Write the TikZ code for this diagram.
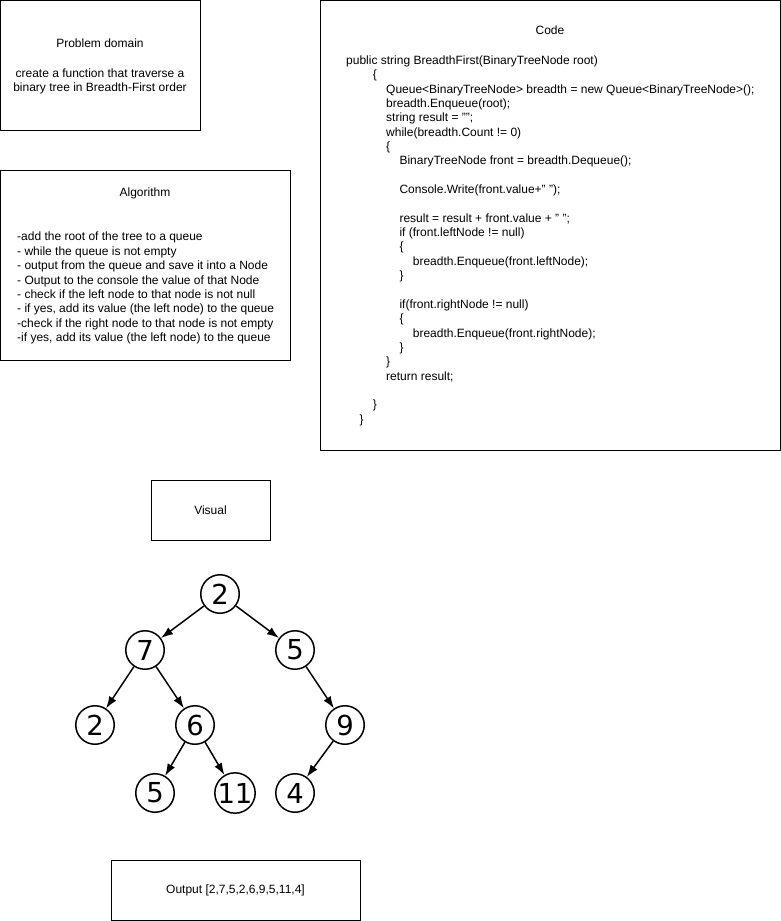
\documentclass[tikz,border=0pt]{standalone}
\usepackage{fontspec}
\setmainfont{Liberation Sans}
\newfontfamily\treefont{DejaVu Sans}
\usetikzlibrary{arrows.meta}
\newcommand\cind[1]{\hspace*{#1\dimexpr13.33pt\relax}}
\begin{document}
\begin{tikzpicture}[x=1pt,y=-1pt,
  box/.style={draw=black, line width=1pt, inner sep=0pt},
  txt/.style={inner sep=0pt, font=\fontsize{12}{14.4}\selectfont},
  codetxt/.style={inner sep=0pt, font=\fontsize{12}{14.36}\selectfont},
  tnode/.style={circle, draw=black, line width=1.5pt, minimum size=38.5pt, inner sep=0pt,
    font=\treefont\fontsize{27.5}{30}\selectfont},
  tedge/.style={line width=1.5pt, -{Latex[length=12pt,width=8.5pt]}}]
\useasboundingbox (0,0) rectangle (781,921);

% boxes
\draw[box] (0.5,0.5) rectangle (200,130);
\draw[box] (0.5,170) rectangle (290,360);
\draw[box] (320.5,0.5) rectangle (780,450);

% problem domain
\node[txt, anchor=base] (pdt) at (100,47.3) {Problem domain};
\node[txt, anchor=base] (pdb) at (100,77.3) {\begin{tabular}[t]{@{}c@{}}create a function that traverse a\\binary tree in Breadth-First order\end{tabular}};

% algorithm
\node[txt, anchor=base] (algt) at (145,196.3) {Algorithm};
\node[txt, anchor=base west] (algb) at (17,240.8) {\begin{tabular}[t]{@{}l@{}}
-add the root of the tree to a queue\\
- while the queue is not empty\\
- output from the queue and save it into a Node\\
- Output to the console the value of that Node\\
- check if the left node to that node is not null\\
- if yes, add its value (the left node) to the queue\\
-check if the right node to that node is not empty\\
-if yes, add its value (the left node) to the queue
\end{tabular}};

% code
\node[txt, anchor=base] (codet) at (550,34.3) {Code};
\node[codetxt, anchor=base west] (codeb) at (346,64.3) {\begin{tabular}[t]{@{}l@{}}
public string BreadthFirst(BinaryTreeNode root)\\
\cind{2}\{\\
\cind{3}Queue<BinaryTreeNode> breadth = new Queue<BinaryTreeNode>();\\
\cind{3}breadth.Enqueue(root);\\
\cind{3}string result = "";\\
\cind{3}while(breadth.Count != 0)\\
\cind{3}\{\\
\cind{4}BinaryTreeNode front = breadth.Dequeue();\\
\\
\cind{4}Console.Write(front.value+" ");\\
\\
\cind{4}result = result + front.value + " ";\\
\cind{4}if (front.leftNode != null)\\
\cind{4}\{\\
\cind{5}breadth.Enqueue(front.leftNode);\\
\cind{4}\}\\
\\
\cind{4}if(front.rightNode != null)\\
\cind{4}\{\\
\cind{5}breadth.Enqueue(front.rightNode);\\
\cind{4}\}\\
\cind{3}\}\\
\cind{3}return result;\\
\\
\cind{2}\}\\
\cind{1}\}
\end{tabular}};

% visual and output
\node[box, txt, draw=black, line width=1pt, minimum width=119pt, minimum height=60pt] (vis) at (210.5,510) {Visual};
\node[box, txt, draw=black, line width=1pt, minimum width=249pt, minimum height=60pt] (out) at (235.5,890) {Output [2,7,5,2,6,9,5,11,4]};

% tree
\node[tnode] (r) at (220,594) {2};
\node[tnode] (a) at (145,650) {7};
\node[tnode] (b) at (295,650) {5};
\node[tnode] (c) at (95,725) {2};
\node[tnode] (d) at (195,725) {6};
\node[tnode] (e) at (345,725) {9};
\node[tnode] (f) at (155,793) {5};
\node[tnode] (g) at (235,793) {11};
\node[tnode] (h) at (295,793) {4};

\draw[tedge] (r) -- (a);
\draw[tedge] (r) -- (b);
\draw[tedge] (a) -- (c);
\draw[tedge] (a) -- (d);
\draw[tedge] (b) -- (e);
\draw[tedge] (d) -- (f);
\draw[tedge] (d) -- (g);
\draw[tedge] (e) -- (h);
\end{tikzpicture}
\end{document}
